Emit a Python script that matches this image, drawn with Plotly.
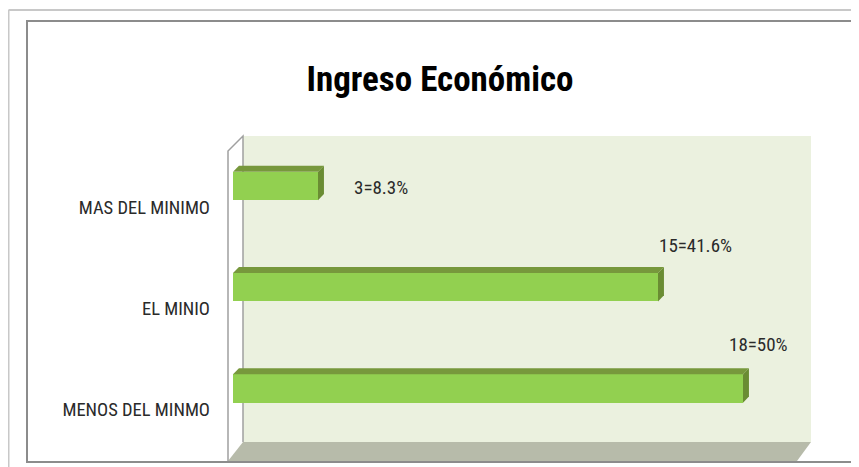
import plotly.graph_objects as go

# data
categorias = ["MENOS DEL MINMO", "EL MINIO", "MAS DEL MINIMO"]
valores = [18, 15, 3]
etiquetas = ["18=50%", "15=41.6%", "3=8.3%"]
titulo = "Ingreso Económico"

OFF = 8  # page body margin of the browser
W, H = 859, 467
L, R, T, B = 233, 811, 136, 461  # plot area in page pixels
XMAX = 20.4
Y0, Y1 = -0.716, 2.494

FONT = "Roboto Condensed, Liberation Sans Narrow, sans-serif"


def px(x):
    return (x - L) / (R - L)


def py(y):
    return (B - y) / (B - T)


pos = list(range(len(categorias)))
half = 0.14
dx, dy = 0.21, 0.06

fig = go.Figure()

# 3d-ish top and side faces of the bars
for c, v in zip(pos, valores):
    fig.add_trace(go.Scatter(
        x=[0, v, v + dx, dx, 0], y=[c + half, c + half, c + half + dy, c + half + dy, c + half],
        mode="lines", fill="toself", fillcolor="#77983C", line=dict(width=0),
        hoverinfo="skip", showlegend=False))
    fig.add_trace(go.Scatter(
        x=[v, v + dx, v + dx, v, v], y=[c - half, c - half + dy, c + half + dy, c + half, c - half],
        mode="lines", fill="toself", fillcolor="#6A8C33", line=dict(width=0),
        hoverinfo="skip", showlegend=False))

fig.add_trace(go.Bar(
    x=valores, y=pos, orientation="h", width=2 * half,
    marker=dict(color="#92D050", line=dict(width=0)), showlegend=False))

label_dx = [0.53, 1.34, 2.22]
label_dy = [0.43, 0.417, -0.01]
for c, v, t, ox, oy in zip(pos, valores, etiquetas, label_dx, label_dy):
    fig.add_annotation(x=v + ox, y=c + oy, text=t, showarrow=False,
                       font=dict(family=FONT, size=19, color="#2A2A2A"))

shapes = [
    # outer frame lines
    dict(type="line", xref="paper", yref="paper", x0=px(8.5), x1=px(859), y0=py(10), y1=py(10),
         line=dict(color="#C8C8C8", width=2)),
    dict(type="line", xref="paper", yref="paper", x0=px(8.5), x1=px(8.5), y0=py(10), y1=py(467),
         line=dict(color="#C8C8C8", width=2)),
    # inner frame
    dict(type="rect", xref="paper", yref="paper", x0=px(27), x1=px(854), y0=py(21), y1=py(462),
         line=dict(color="#8C8C8C", width=2)),
    # back wall
    dict(type="rect", xref="paper", yref="paper", x0=px(243), x1=px(811), y0=py(442), y1=py(136),
         fillcolor="#EBF1DF", line=dict(width=0), layer="below"),
    # floor
    dict(type="path", xref="paper", yref="paper", layer="below",
         path=f"M {px(243)},{py(442)} L {px(811)},{py(442)} L {px(797)},{py(461)} L {px(228)},{py(461)} Z",
         fillcolor="#B7BBAA", line=dict(width=0)),
    # side wall outline
    dict(type="path", xref="paper", yref="paper", layer="below",
         path=f"M {px(228)},{py(461)} L {px(228)},{py(151)} L {px(243)},{py(136)} L {px(243)},{py(442)}",
         line=dict(color="#A0A0A0", width=1.5)),
]

fig.update_layout(
    width=W - OFF, height=H - OFF,
    margin=dict(l=L - OFF, r=W - R, t=T - OFF, b=H - B),
    paper_bgcolor="white", plot_bgcolor="rgba(0,0,0,0)",
    shapes=shapes,
    title=dict(text=f"<b>{titulo}</b>", x=(440 - OFF) / (W - OFF), y=1 - (79 - OFF) / (H - OFF),
               xanchor="center", yanchor="middle",
               font=dict(family=FONT, size=35, color="#000000")),
    xaxis=dict(range=[0, XMAX], visible=False, fixedrange=True),
    yaxis=dict(range=[Y0, Y1], tickvals=pos, ticktext=categorias, showgrid=False, zeroline=False,
               showline=False, ticks="", ticklabelshift=21, ticklabelstandoff=22,
               tickfont=dict(family=FONT, size=18.5, color="#2A2A2A"), fixedrange=True),
    bargap=0,
)

fig.write_html("out.html")
